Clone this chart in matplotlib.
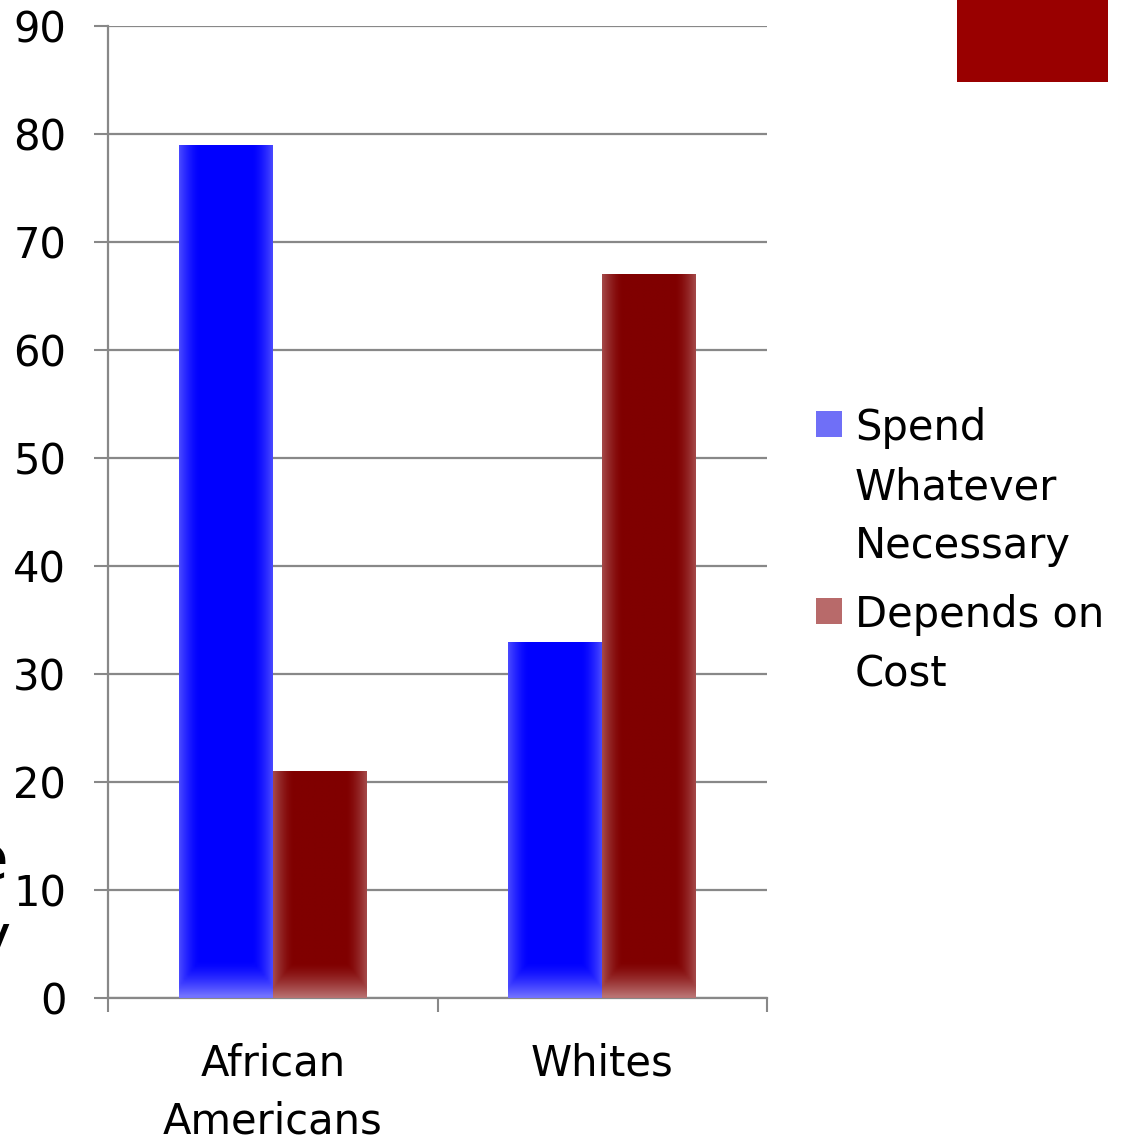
import numpy as np
import matplotlib.pyplot as plt
from matplotlib.patches import Rectangle
from matplotlib.colors import to_rgb

plt.rcParams['font.family'] = ['DejaVu Sans']

groups = ["African\nAmericans", "Whites"]
series_names = ["Spend\nWhatever\nNecessary", "Depends on\nCost"]
spend = [79, 33]
depends = [21, 67]
colors = ["#0000ff", "#800000"]
legend_colors = ["#6f6ff7", "#b86a6a"]

W, H = 1143, 1142
fig = plt.figure(figsize=(W / 100, H / 100), dpi=100)
ax = fig.add_axes([108 / W, 1 - 998 / H, (767 - 108) / W, (998 - 26) / H])

x = np.arange(len(groups))
width = 0.285


def soft_fill(ax, bar, base):
    # lighten the bar near its sides and its foot, like a glossy fill
    x0, y0 = bar.get_x(), bar.get_y()
    w, h = bar.get_width(), bar.get_height()
    nx, ny = 60, 200
    u = np.linspace(0, 1, nx)
    v = np.linspace(0, h, ny)
    side = np.clip(1 - np.minimum(u, 1 - u) / 0.22, 0, 1) ** 1.6 * 0.28
    foot = np.clip(1 - v / 3.2, 0, 1) ** 1.4 * 0.45
    f = np.maximum(side[None, :], foot[:, None])
    rgb = np.array(to_rgb(base))
    img = rgb[None, None, :] * (1 - f[..., None]) + f[..., None]
    im = ax.imshow(img, extent=(x0, x0 + w, y0, y0 + h), origin='lower',
                   aspect='auto', interpolation='bilinear', zorder=3)
    im.set_clip_path(bar)


for vals, off, col in [(spend, -width / 2, colors[0]), (depends, width / 2, colors[1])]:
    bars = ax.bar(x + off, vals, width, color=col, zorder=2, linewidth=0)
    for b in bars:
        soft_fill(ax, b, col)

fs = 30
ax.set_xlim(-0.5, 1.5)
ax.set_ylim(0, 90)
ax.set_yticks(range(0, 91, 10))
ax.set_xticks(x)
ax.set_xticklabels(groups, fontsize=fs, linespacing=1.5)
ax.set_xticks([-0.5, 0.5, 1.5], minor=True)
ax.tick_params(axis='x', which='major', length=0, pad=32)
ax.tick_params(axis='x', which='minor', length=10, width=1.5, color='#888888')
ax.tick_params(axis='y', length=10, width=1.5, color='#888888', labelsize=fs, pad=20)

ax.grid(axis='y', color='#888888', linewidth=1.6, zorder=0)
for s in ['top', 'right']:
    ax.spines[s].set_visible(False)
for s in ['left', 'bottom']:
    ax.spines[s].set_color('#888888')
    ax.spines[s].set_linewidth(1.6)

# legend: square marker beside the first line of each label
legend_rows = [(411, legend_colors[0], series_names[0]),
               (598, legend_colors[1], series_names[1])]
for top, col, name in legend_rows:
    fig.patches.append(Rectangle((816 / W, 1 - (top + 26) / H), 26 / W, 26 / H,
                                 transform=fig.transFigure, facecolor=col,
                                 edgecolor='none'))
    fig.text(855 / W, 1 - (top - 4) / H, name, fontsize=fs, ha='left', va='top',
             linespacing=1.52)

# slide decoration
fig.patches.append(Rectangle((957 / W, 1 - 82 / H), 151 / W, 82 / H,
                             transform=fig.transFigure, facecolor='#990000',
                             edgecolor='none'))
fig.text(8 / W, 1 - 862 / H, "e", fontsize=44, ha='right', va='center')
fig.text(10 / W, 1 - 940 / H, "y", fontsize=44, ha='right', va='center')

fig.savefig("out.png", dpi=100)
